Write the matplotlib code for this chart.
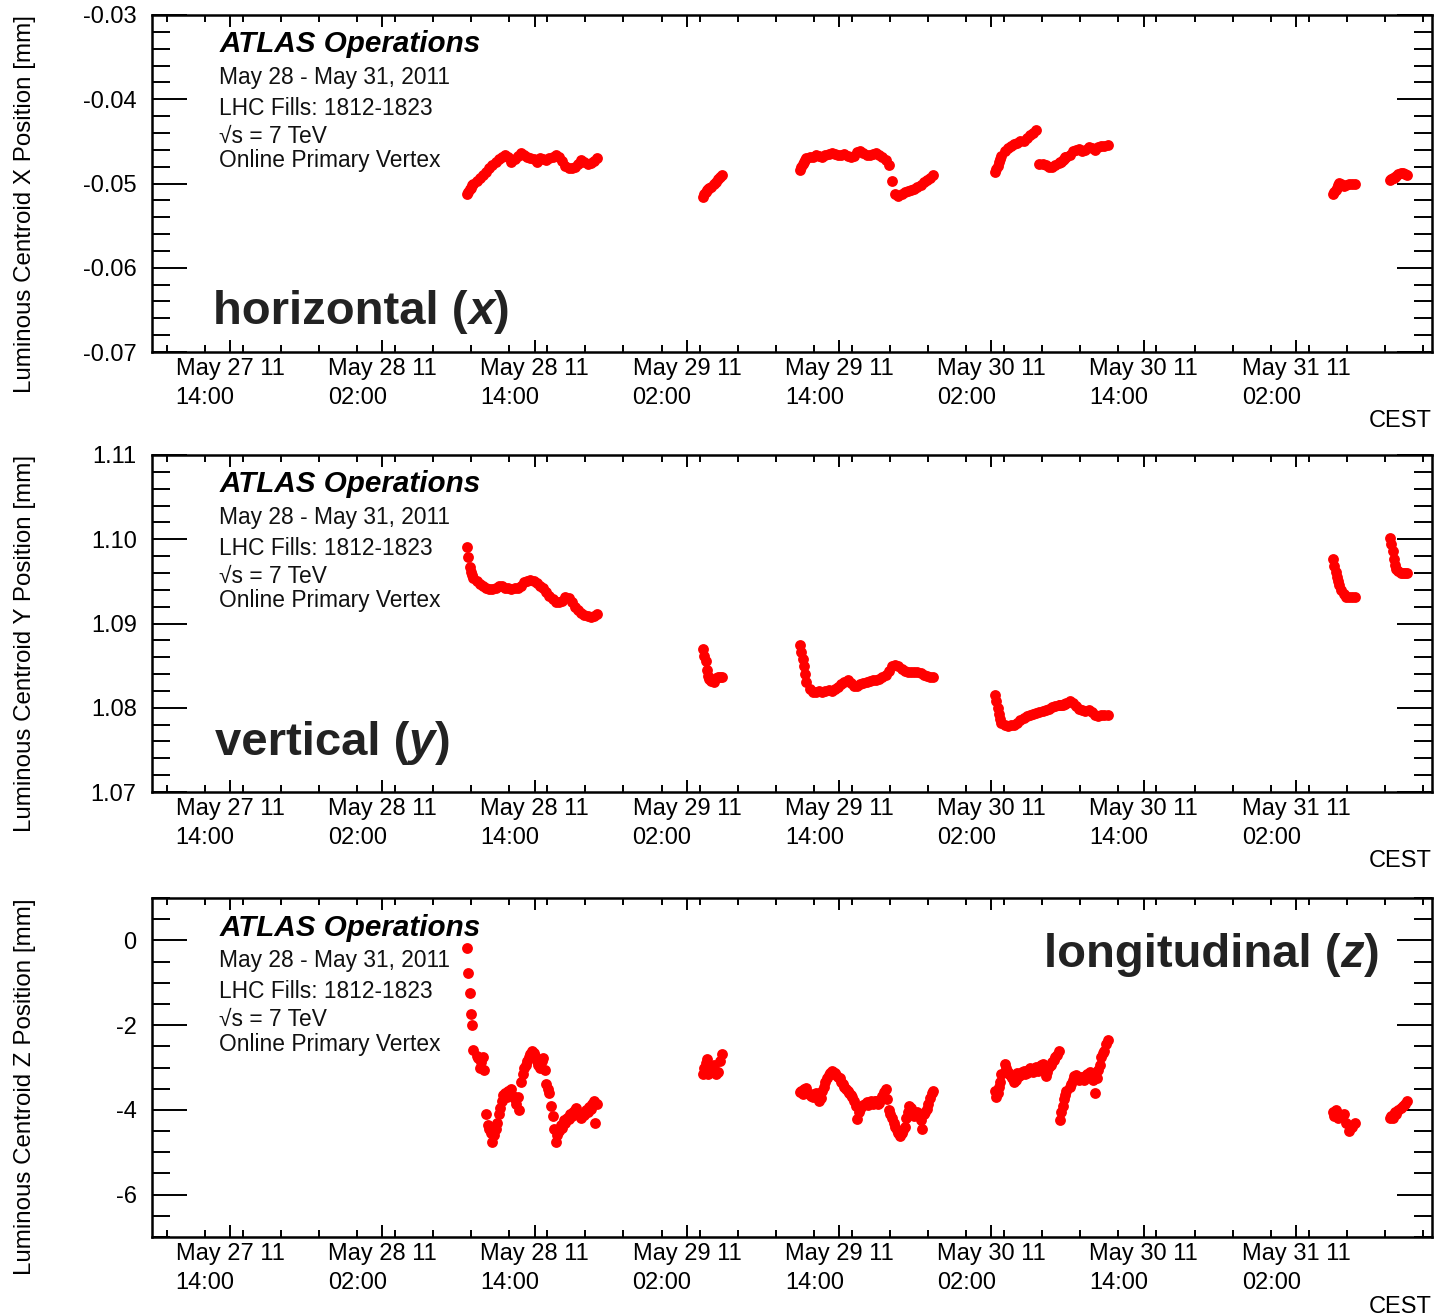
"""Luminous centroid position (x, y, z) from the online primary vertex
fit over LHC fills 1812-1823, May 2011."""

import numpy as np

import matplotlib
matplotlib.use("Agg")
import matplotlib.pyplot as plt  # noqa: E402
from matplotlib.ticker import FixedLocator, FuncFormatter, MultipleLocator  # noqa: E402

plt.rcParams["font.family"] = ["Liberation Sans", "DejaVu Sans"]
plt.rcParams["axes.unicode_minus"] = False

# fill start, hours since May 27 2011 00:00 CEST; sample offsets in minutes
HEAD = [0, 6, 12, 18, 24, 30]

START_A = 32.67
OFFS_A = HEAD + list(range(45, 616, 15))
ZOFFS_A = HEAD + np.arange(45, 615.1, 7.5).tolist()
X_A = [-0.0512, -0.0510, -0.0507, -0.0505, -0.0502, -0.0501,
       -0.0497, -0.0493, -0.0490, -0.0486, -0.0482, -0.0478, -0.0475, -0.0471, -0.0468, -0.0466,
       -0.0468, -0.0474, -0.0471, -0.0467, -0.0464, -0.0466, -0.0468, -0.0470, -0.0471, -0.0474,
       -0.0470, -0.0471, -0.0472, -0.0470, -0.0468, -0.0466, -0.0469, -0.0473, -0.0479, -0.0482,
       -0.0482, -0.0480, -0.0477, -0.0472, -0.0474, -0.0477, -0.0476, -0.0473, -0.0470]
Y_A = [1.0991, 1.0979, 1.0967, 1.0961, 1.0957, 1.0954,
       1.0950, 1.0947, 1.0944, 1.0942, 1.0941, 1.0941, 1.0942, 1.0945, 1.0944, 1.0942,
       1.0942, 1.0941, 1.0942, 1.0942, 1.0945, 1.0949, 1.0951, 1.0952, 1.0950, 1.0948,
       1.0945, 1.0942, 1.0937, 1.0933, 1.0929, 1.0926, 1.0926, 1.0927, 1.0931, 1.0930,
       1.0925, 1.0920, 1.0916, 1.0913, 1.0910, 1.0909, 1.0908, 1.0909, 1.0911]
Z_A = [-0.17, -0.78, -1.23, -1.73, -2.0, -2.58,
       -2.72, -2.78, -3.0, -2.88, -2.76, -3.05, -4.1, -4.35, -4.45, -4.55,
       -4.75, -4.6, -4.45, -4.3, -4.1, -3.95, -3.78, -3.65, -3.6, -3.7,
       -3.55, -3.62, -3.5, -3.68, -3.75, -3.85, -3.7, -4.0, -3.35, -3.15,
       -3.0, -2.95, -2.85, -2.75, -2.68, -2.62, -2.65, -2.72, -2.85, -2.95,
       -3.0, -2.85, -2.78, -3.05, -3.4, -3.5, -3.6, -3.9, -4.15, -4.45,
       -4.75, -4.6, -4.5, -4.35, -4.42, -4.25, -4.3, -4.18, -4.22, -4.1,
       -4.15, -4.05, -4.0, -3.95, -4.08, -4.15, -4.2, -4.1, -4.12, -4.0,
       -4.05, -3.92, -3.98, -3.85, -3.8, -4.3, -3.85]

START_B = 51.27
OFFS_B = [0, 6, 12, 18, 24, 30, 40, 50, 60, 70, 80, 90]
X_B = [-0.0516, -0.0513, -0.0510, -0.0508, -0.0507, -0.0505,
       -0.0504, -0.0501, -0.0498, -0.0495, -0.0492, -0.0490]
Y_B = [1.0870, 1.0862, 1.0855, 1.0845, 1.0838, 1.0834,
       1.0832, 1.0831, 1.0835, 1.0837, 1.0836, 1.0836]
Z_B = [-3.15, -3.0, -2.9, -2.8, -3.15, -3.05, -3.1, -2.95, -3.15, -3.1, -2.85, -2.68]

START_C = 58.91
OFFS_C = HEAD + list(range(45, 631, 15))
ZOFFS_C = HEAD + np.arange(45, 630.1, 7.5).tolist()
X_C = [-0.0484, -0.0480, -0.0477, -0.0474, -0.0472, -0.0470,
       -0.0468, -0.0468, -0.0466, -0.0467, -0.0468, -0.0466, -0.0465, -0.0464, -0.0465, -0.0466,
       -0.0466, -0.0465, -0.0467, -0.0468, -0.0467, -0.0463, -0.0462, -0.0464, -0.0466, -0.0466,
       -0.0465, -0.0464, -0.0466, -0.0469, -0.0472, -0.0478, -0.0497, -0.0512, -0.0515, -0.0512,
       -0.0510, -0.0509, -0.0508, -0.0507, -0.0504, -0.0502, -0.0498, -0.0496, -0.0493, -0.0490]
Y_C = [1.0874, 1.0866, 1.0858, 1.0849, 1.0840, 1.0831,
       1.0822, 1.0819, 1.0819, 1.0820, 1.0819, 1.0820, 1.0821, 1.0820, 1.0822, 1.0825,
       1.0828, 1.0831, 1.0833, 1.0829, 1.0826, 1.0826, 1.0828, 1.0829, 1.0831, 1.0832,
       1.0833, 1.0833, 1.0834, 1.0836, 1.0839, 1.0844, 1.0849, 1.0851, 1.0850, 1.0846,
       1.0844, 1.0843, 1.0843, 1.0842, 1.0842, 1.0841, 1.0839, 1.0838, 1.0837, 1.0836]
Z_C = [-3.58, -3.55, -3.62, -3.5, -3.6, -3.48,
       -3.62, -3.68, -3.7, -3.62, -3.6, -3.7, -3.8, -3.72, -3.55, -3.45,
       -3.35, -3.25, -3.18, -3.12, -3.08, -3.1, -3.12, -3.18, -3.22, -3.25,
       -3.35, -3.4, -3.46, -3.5, -3.55, -3.6, -3.65, -3.7, -3.78, -3.9,
       -4.22, -4.05, -3.98, -3.9, -3.88, -3.85, -3.82, -3.88, -3.82, -3.8,
       -3.85, -3.78, -3.8, -3.85, -3.83, -3.75, -3.68, -3.58, -3.5, -3.75,
       -4.0, -4.1, -4.2, -4.32, -4.4, -4.48, -4.55, -4.62, -4.55, -4.48,
       -4.4, -4.2, -4.05, -3.9, -3.95, -4.1, -4.15, -4.08, -4.05, -4.15,
       -4.25, -4.45, -4.1, -4.05, -3.98, -3.85, -3.72, -3.6, -3.55]

START_D = 74.28
OFFS_D = HEAD + list(range(45, 301, 15))
ZOFFS_D = HEAD + np.arange(45, 300.1, 7.5).tolist()
X_D = [-0.0486, -0.0483, -0.0479, -0.0475, -0.0471, -0.0467,
       -0.0461, -0.0458, -0.0455, -0.0453, -0.0452, -0.0450, -0.0449, -0.0446, -0.0443, -0.0440,
       -0.0436, -0.0477, -0.0477, -0.0478, -0.0481, -0.0480, -0.0478, -0.0476]
Y_D = [1.0815, 1.0808, 1.0800, 1.0793, 1.0787, 1.0782,
       1.0779, 1.0778, 1.0779, 1.0780, 1.0782, 1.0785, 1.0788, 1.0790, 1.0792, 1.0793,
       1.0794, 1.0795, 1.0796, 1.0797, 1.0799, 1.0801, 1.0802, 1.0803]
Z_D = [-3.55, -3.7, -3.6, -3.45, -3.35, -3.15,
       -2.92, -3.0, -3.1, -3.15, -3.2, -3.25, -3.35, -3.3, -3.12, -3.2,
       -3.18, -3.1, -3.08, -3.15, -3.12, -3.05, -3.0, -3.08, -3.1, -3.02,
       -2.98, -3.08, -3.05, -2.95, -2.92, -3.05, -3.2, -3.1, -2.98, -2.95,
       -2.88, -2.82, -2.75, -2.7, -2.62]

START_E = 79.40
OFFS_E = HEAD + list(range(45, 226, 15))
ZOFFS_E = HEAD + np.arange(45, 225.1, 7.5).tolist()
X_E = [-0.0475, -0.0474, -0.0472, -0.0471, -0.0469, -0.0468,
       -0.0466, -0.0462, -0.0460, -0.0459, -0.0462, -0.0460, -0.0457, -0.0458, -0.0460,
       -0.0457, -0.0456, -0.0455, -0.0454]
Y_E = [1.0803, 1.0803, 1.0803, 1.0804, 1.0804, 1.0806,
       1.0808, 1.0806, 1.0802, 1.0799, 1.0797, 1.0796, 1.0797, 1.0795, 1.0791,
       1.0790, 1.0791, 1.0792, 1.0791]
Z_E = [-4.25, -4.05, -3.9, -3.75, -3.65, -3.55,
       -3.45, -3.38, -3.3, -3.2, -3.18, -3.28, -3.3, -3.22, -3.25, -3.3,
       -3.2, -3.15, -3.18, -3.1, -3.15, -3.3, -3.6, -3.25, -3.05, -2.95,
       -2.75, -2.65, -2.6, -2.45, -2.35]

START_F = 100.91
OFFS_F = [0, 6, 12, 18, 24, 30, 40, 50, 60, 75, 90, 105]
X_F = [-0.0513, -0.0510, -0.0508, -0.0505, -0.0502, -0.0499,
       -0.0501, -0.0503, -0.0502, -0.0501, -0.0500, -0.0500]
Y_F = [1.0976, 1.0968, 1.0961, 1.0955, 1.0950, 1.0946,
       1.0940, 1.0935, 1.0932, 1.0931, 1.0932, 1.0932]
Z_F = [-4.05, -4.15, -4.0, -4.1, -4.2, -4.1, -4.15, -4.1, -4.3, -4.5, -4.4, -4.3]

START_G = 105.40
OFFS_G = [0, 6, 12, 18, 24, 30, 40, 50, 60, 70, 80]
X_G = [-0.0496, -0.0495, -0.0494, -0.0493, -0.0492, -0.0491,
       -0.0489, -0.0488, -0.0488, -0.0489, -0.0490]
Y_G = [1.1001, 1.0994, 1.0986, 1.0977, 1.0970, 1.0965,
       1.0962, 1.0960, 1.0960, 1.0960, 1.0960]
Z_G = [-4.2, -4.15, -4.2, -4.1, -4.05, -4.1, -4.0, -3.95, -3.9, -3.85, -3.8]

STARTS = [START_A, START_B, START_C, START_D, START_E, START_F, START_G]
OFFS = [OFFS_A, OFFS_B, OFFS_C, OFFS_D, OFFS_E, OFFS_F, OFFS_G]
ZOFFS = [ZOFFS_A, OFFS_B, ZOFFS_C, ZOFFS_D, ZOFFS_E, OFFS_F, OFFS_G]
X_VALS = [X_A, X_B, X_C, X_D, X_E, X_F, X_G]
Y_VALS = [Y_A, Y_B, Y_C, Y_D, Y_E, Y_F, Y_G]
Z_VALS = [Z_A, Z_B, Z_C, Z_D, Z_E, Z_F, Z_G]

T_RANGE = (7.85, 108.71)
MAJOR_HOURS = [14, 26, 38, 50, 62, 74, 86, 98]

INFO_LINES = ["May 28 - May 31, 2011", "LHC Fills: 1812-1823",
              "\u221as = 7 TeV", "Online Primary Vertex"]


def time_label(h, pos):
    h = int(round(h))
    return f"May {27 + h // 24} 11\n{h % 24:02d}:00"


def tag(ax, x, y, head, var, ha="left"):
    kw = dict(fontsize=34, fontweight="bold", color="#222222")
    if ha == "left":
        t1 = ax.text(x, y, head + " (", transform=ax.transAxes, ha="left", va="center", **kw)
        t2 = ax.annotate(var, xy=(1, 0), xycoords=t1, ha="left", va="bottom", style="italic", **kw)
        ax.annotate(")", xy=(1, 0), xycoords=t2, ha="left", va="bottom", **kw)
    else:
        t3 = ax.text(x, y, ")", transform=ax.transAxes, ha="right", va="center", **kw)
        t2 = ax.annotate(var, xy=(0, 0), xycoords=t3, ha="right", va="bottom", style="italic", **kw)
        ax.annotate(head + " (", xy=(0, 0), xycoords=t2, ha="right", va="bottom", **kw)


def panel(ax, offs, vals, ylim, major, minor, fmt, ylabel):
    for start, off, v in zip(STARTS, offs, vals):
        assert len(off) == len(v)
        t = start + np.asarray(off) / 60.0
        ax.plot(t, v, "o", color="#ff0000", ms=7.8, mec="none")

    ax.set_xlim(*T_RANGE)
    ax.set_ylim(*ylim)
    ax.xaxis.set_major_locator(FixedLocator(MAJOR_HOURS))
    ax.xaxis.set_minor_locator(MultipleLocator(3))
    ax.xaxis.set_major_formatter(FuncFormatter(time_label))
    ax.yaxis.set_major_locator(MultipleLocator(major))
    ax.yaxis.set_minor_locator(MultipleLocator(minor))
    ax.yaxis.set_major_formatter(FuncFormatter(lambda v, p: fmt % v))

    for s in ax.spines.values():
        s.set_linewidth(1.8)
    ax.tick_params(axis="y", which="major", direction="in", length=25, width=1.4,
                   left=True, right=True, labelsize=17, pad=11)
    ax.tick_params(axis="y", which="minor", direction="in", length=13, width=1.4,
                   left=True, right=True)
    ax.tick_params(axis="x", which="major", direction="in", length=8.5, width=1.4,
                   top=True, bottom=True, labelsize=17, pad=4)
    ax.tick_params(axis="x", which="minor", direction="in", length=5, width=1.4,
                   top=True, bottom=True)
    for lab in ax.get_xticklabels():
        lab.set_multialignment("left")
        lab.set_linespacing(1.45)

    ax.set_ylabel(ylabel, fontsize=17.4, loc="top")
    ax.yaxis.set_label_coords(-0.0905, 1.0)
    ax.text(1.0, -0.205, "CEST", transform=ax.transAxes, ha="right", va="center", fontsize=17)

    ax.text(0.053, 0.913, "ATLAS Operations", transform=ax.transAxes, fontsize=21.3,
            fontweight="bold", fontstyle="italic", va="center")
    for yy, line in zip([0.816, 0.724, 0.641, 0.567], INFO_LINES):
        ax.text(0.052, yy, line, transform=ax.transAxes, fontsize=16.4, va="center",
                color="#111111")


fig = plt.figure(figsize=(14.34, 13.15), dpi=100)
ax_x = fig.add_axes([0.106, 0.7323, 0.8926, 0.2563])
ax_y = fig.add_axes([0.106, 0.3977, 0.8926, 0.2563])
ax_z = fig.add_axes([0.106, 0.0593, 0.8926, 0.2578])

panel(ax_x, OFFS, X_VALS, (-0.07, -0.03), 0.01, 0.002, "%.2f",
      "Luminous Centroid X Position [mm]")
panel(ax_y, OFFS, Y_VALS, (1.07, 1.11), 0.01, 0.002, "%.2f",
      "Luminous Centroid Y Position [mm]")
panel(ax_z, ZOFFS, Z_VALS, (-7, 1), 2, 0.5, "%g",
      "Luminous Centroid Z Position [mm]")

tag(ax_x, 0.048, 0.119, "horizontal", "x")
tag(ax_y, 0.049, 0.145, "vertical", "y")
tag(ax_z, 0.959, 0.832, "longitudinal", "z", ha="right")

fig.savefig("out.png", dpi=100)
